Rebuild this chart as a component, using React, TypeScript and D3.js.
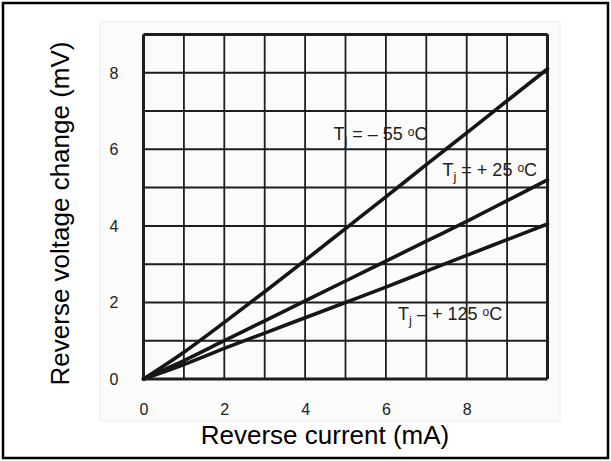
import React from "react";
import * as d3 from "d3";

const currents = [0, 1, 2, 3, 4, 5, 6, 7, 8, 9, 10];
const vMinus55 = [0, 0.7, 1.48, 2.28, 3.1, 3.93, 4.76, 5.6, 6.43, 7.27, 8.1];
const vPlus25 = [0, 0.48, 1.0, 1.52, 2.04, 2.56, 3.08, 3.6, 4.12, 4.66, 5.2];
const vPlus125 = [0, 0.38, 0.8, 1.2, 1.6, 2.0, 2.4, 2.82, 3.23, 3.64, 4.05];
const xTicks = [0, 2, 4, 6, 8];
const yTicks = [0, 2, 4, 6, 8];
const xGrid = [0, 1, 2, 3, 4, 5, 6, 7, 8, 9, 10];
const yGrid = [0, 1, 2, 3, 4, 5, 6, 7, 8, 9];
const seriesLabels = [
  { sign: "= – 55", at: [4.7, 6.25] },
  { sign: "= + 25", at: [7.4, 5.3] },
  { sign: "– + 125", at: [6.3, 1.53] },
];

export default function App() {
  const W = 611, H = 461;
  const x = d3.scaleLinear().domain([0, 10]).range([143.5, 547.5]);
  const y = d3.scaleLinear().domain([0, 9]).range([379, 34.5]);
  const line = d3
    .line<number>()
    .x((_, i) => x(currents[i]))
    .y((d) => y(d))
    .curve(d3.curveMonotoneX);
  const series = [vMinus55, vPlus25, vPlus125];
  const scanFont = "'Liberation Sans Narrow', 'Arial Narrow', 'Liberation Sans', Arial, sans-serif";
  const titleFont = "'Liberation Sans', Arial, Helvetica, sans-serif";

  return (
    <svg
      width={W}
      height={H}
      style={{ position: "absolute", left: 0, top: 0, background: "#fff" }}
    >
      <rect x={0} y={0} width={W} height={H} fill="#fff" />
      <rect x={3} y={3} width={605} height={455} fill="none" stroke="#000" strokeWidth={2.5} />
      {/* scanned image area */}
      <rect x={100} y={22} width={460} height={399} fill="#fbfbfb" stroke="#ececec" strokeWidth={1} />
      {/* grid */}
      {xGrid.map((g) => (
        <line
          key={"vx" + g}
          x1={x(g)}
          x2={x(g)}
          y1={y(0)}
          y2={y(9)}
          stroke="#1e1e1e"
          strokeWidth={g === 0 || g === 10 ? 3 : 1.8}
        />
      ))}
      {yGrid.map((g) => (
        <line
          key={"hy" + g}
          x1={x(0)}
          x2={x(10)}
          y1={y(g)}
          y2={y(g)}
          stroke="#1e1e1e"
          strokeWidth={g === 0 || g === 9 ? 3 : 2}
        />
      ))}
      <line x1={x(10)} x2={x(10)} y1={y(0)} y2={y(9)} stroke="#1e1e1e" strokeWidth={3} />
      {/* curves */}
      {series.map((s, i) => (
        <path key={"s" + i} d={line(s) || ""} fill="none" stroke="#161616" strokeWidth={3.6} strokeLinecap="round" />
      ))}
      {/* curve labels */}
      {seriesLabels.map((l, i) => (
        <text
          key={"l" + i}
          x={x(l.at[0])}
          y={y(l.at[1])}
          fontFamily={scanFont}
          fontSize={18}
          fill="#222"
        >
          <tspan>T</tspan>
          <tspan fontSize={13} dy={5}>j</tspan>
          <tspan dy={-5}>{" " + l.sign + " "}</tspan>
          <tspan fontSize={12} dy={-4}>o</tspan>
          <tspan dy={4}>C</tspan>
        </text>
      ))}
      {/* y tick labels */}
      {yTicks.map((t) => (
        <text
          key={"yt" + t}
          x={114}
          y={y(t) + 6}
          textAnchor="middle"
          fontFamily={scanFont}
          fontSize={16}
          fill="#222"
        >
          {t}
        </text>
      ))}
      {/* x tick labels */}
      {xTicks.map((t) => (
        <text
          key={"xt" + t}
          x={x(t) + 0.5}
          y={415}
          textAnchor="middle"
          fontFamily={scanFont}
          fontSize={16}
          fill="#222"
        >
          {t}
        </text>
      ))}
      {/* axis titles */}
      <text
        x={325}
        y={444}
        textAnchor="middle"
        fontFamily={titleFont}
        fontSize={26}
        fill="#000"
      >
        Reverse current (mA)
      </text>
      <text
        transform="translate(69,213.5) rotate(-90)"
        textAnchor="middle"
        fontFamily={titleFont}
        fontSize={26}
        fill="#000"
      >
        Reverse voltage change (mV)
      </text>
    </svg>
  );
}
